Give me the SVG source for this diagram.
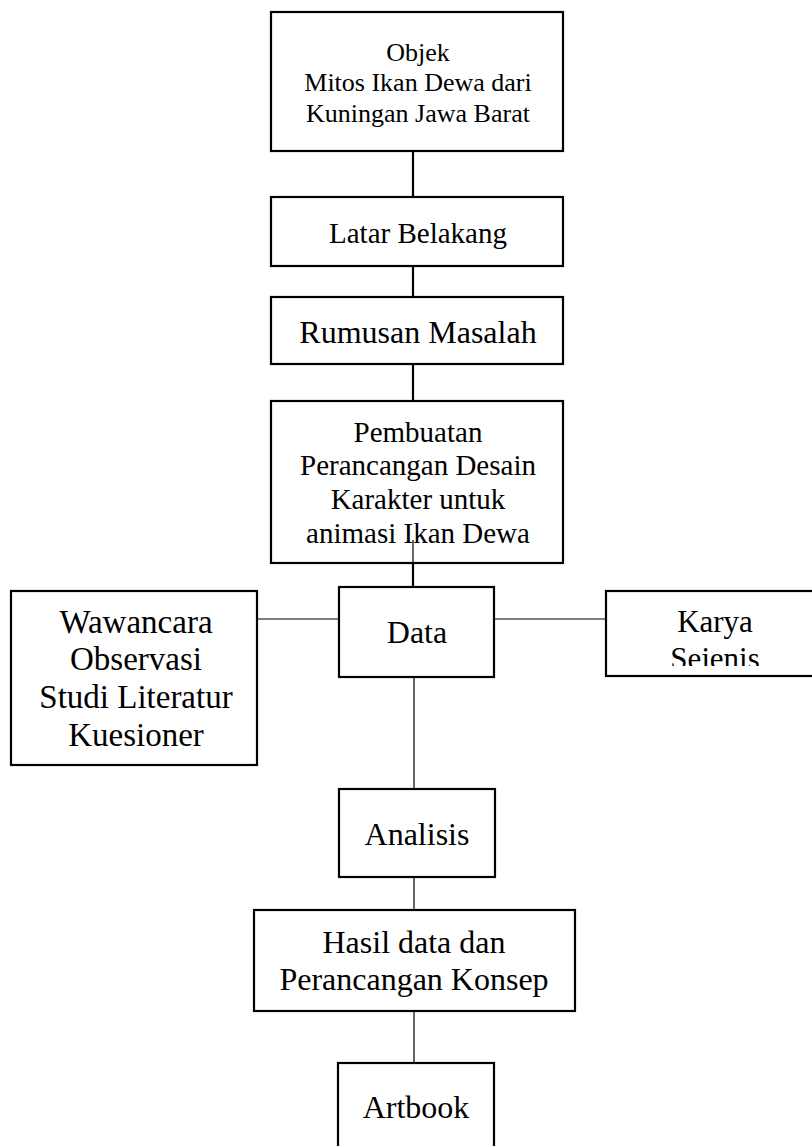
<svg xmlns="http://www.w3.org/2000/svg" width="812" height="1146" viewBox="0 0 812 1146">
<style>
.box{fill:#fff;stroke:#000;stroke-width:2.2}
.t{font-family:"Liberation Serif","Times New Roman",serif;fill:#000;text-anchor:middle}
.thick{stroke:#000;stroke-width:2.2;fill:none}
.thin{stroke:#000;stroke-width:1.2;fill:none}
</style>
<defs>
<clipPath id="karyaClip"><rect x="606" y="591" width="210" height="75"/></clipPath>
</defs>
<rect width="812" height="1146" fill="#fff"/>
<g id="connectors">
<line class="thick" x1="413" y1="151" x2="413" y2="197"/>
<line class="thick" x1="413" y1="266" x2="413" y2="297"/>
<line class="thick" x1="413" y1="364" x2="413" y2="401"/>
<line class="thick" x1="413" y1="563" x2="413" y2="587"/>
<line class="thin" x1="257" y1="619" x2="339" y2="619"/>
<line class="thin" x1="494" y1="619" x2="606" y2="619"/>
<line class="thin" x1="414" y1="677" x2="414" y2="789"/>
<line class="thin" x1="414" y1="877" x2="414" y2="910"/>
<line class="thin" x1="414" y1="1011" x2="414" y2="1063"/>
</g>
<g id="objek">
<rect class="box" x="271" y="12" width="292" height="139"/>
<text class="t" font-size="26" x="418" y="61">Objek</text>
<text class="t" font-size="26" x="418" y="91">Mitos Ikan Dewa dari</text>
<text class="t" font-size="26" x="418" y="122">Kuningan Jawa Barat</text>
</g>
<g id="latar">
<rect class="box" x="271" y="197" width="292" height="69"/>
<text class="t" font-size="29" x="418" y="243">Latar Belakang</text>
</g>
<g id="rumusan">
<rect class="box" x="271" y="297" width="292" height="67"/>
<text class="t" font-size="32" x="418" y="343">Rumusan Masalah</text>
</g>
<g id="pembuatan">
<rect class="box" x="271" y="401" width="292" height="162"/>
<text class="t" font-size="29" x="418" y="442">Pembuatan</text>
<text class="t" font-size="29" x="418" y="475">Perancangan Desain</text>
<text class="t" font-size="29" x="418" y="509">Karakter untuk</text>
<text class="t" font-size="29" x="418" y="543">animasi Ikan Dewa</text>
<line class="thin" x1="413" y1="540" x2="413" y2="563"/>
</g>
<g id="wawancara">
<rect class="box" x="11" y="591" width="246" height="174"/>
<text class="t" font-size="33" x="136" y="633">Wawancara</text>
<text class="t" font-size="33" x="136" y="670">Observasi</text>
<text class="t" font-size="33" x="136" y="708">Studi Literatur</text>
<text class="t" font-size="33" x="136" y="746">Kuesioner</text>
</g>
<g id="data">
<rect class="box" x="339" y="587" width="155" height="90"/>
<text class="t" font-size="32" x="417" y="643">Data</text>
</g>
<g id="karya">
<rect class="box" x="606" y="591" width="220" height="85"/>
<g clip-path="url(#karyaClip)">
<text class="t" font-size="31" x="715" y="632">Karya</text>
<text class="t" font-size="31" x="715" y="669">Sejenis</text>
</g>
</g>
<g id="analisis">
<rect class="box" x="339" y="789" width="156" height="88"/>
<text class="t" font-size="32" x="417" y="845">Analisis</text>
</g>
<g id="hasil">
<rect class="box" x="254" y="910" width="321" height="101"/>
<text class="t" font-size="32" x="414" y="953">Hasil data dan</text>
<text class="t" font-size="32" x="414" y="990">Perancangan Konsep</text>
</g>
<g id="artbook">
<rect class="box" x="338" y="1063" width="156" height="100"/>
<text class="t" font-size="32" x="416" y="1118">Artbook</text>
</g>
</svg>
